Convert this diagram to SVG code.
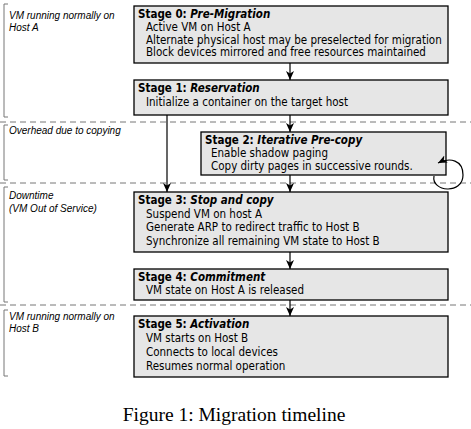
<svg xmlns="http://www.w3.org/2000/svg" width="471" height="429" viewBox="0 0 471 429">
<style>
.bg{fill:#fff}
.box{fill:#e6e6e6;stroke:#000;stroke-width:1.3}
.t{font-family:"DejaVu Sans Condensed","DejaVu Sans",sans-serif;font-size:11.5px;fill:#000}
.h{font-weight:bold}
.hi{font-weight:bold;font-style:italic}
.lab{font-family:"Liberation Sans",Arial,sans-serif;font-style:italic;font-size:10px;fill:#000}
.dash{stroke:#777;stroke-width:1;stroke-dasharray:6,4;fill:none}
.br{stroke:#777;stroke-width:1;fill:none}
.c{stroke:#000;stroke-width:1.2;fill:none}
.cap{font-family:"Liberation Serif","Times New Roman",serif;font-size:19.5px;fill:#000}
</style>
<defs>
<marker id="ah" markerWidth="10" markerHeight="10" refX="9" refY="4" orient="auto" markerUnits="userSpaceOnUse">
<path d="M0,0 L9,4 L0,8 L2.5,4 Z" fill="#000"/>
</marker>
</defs>
<rect class="bg" x="0" y="0" width="471" height="429"/>
<g id="phases">
<line class="dash" x1="0" y1="122" x2="471" y2="122"/>
<line class="dash" x1="0" y1="183" x2="471" y2="183"/>
<line class="dash" x1="0" y1="305" x2="471" y2="305"/>
<path class="br" d="M8,4 H4 V117 H8"/>
<path class="br" d="M8,125 H4 V180 H8"/>
<path class="br" d="M8,187 H4 V302 H8"/>
<path class="br" d="M8,310 H4 V376 H8"/>
<text class="lab" x="9" y="19">VM running normally on</text>
<text class="lab" x="9" y="31">Host A</text>
<text class="lab" x="9" y="134">Overhead due to copying</text>
<text class="lab" x="9" y="199">Downtime</text>
<text class="lab" x="9" y="212">(VM Out of Service)</text>
<text class="lab" x="9" y="320">VM running normally on</text>
<text class="lab" x="9" y="332">Host B</text>
</g>
<g id="stage0">
<rect class="box" x="134" y="6" width="314" height="57"/>
<text class="t" x="138" y="18"><tspan class="h">Stage 0: </tspan><tspan class="hi">Pre-Migration</tspan></text>
<text class="t" x="146" y="31">Active VM on Host A</text>
<text class="t" x="146" y="43.5">Alternate physical host may be preselected for migration</text>
<text class="t" x="146" y="56">Block devices mirrored and free resources maintained</text>
</g>
<g id="stage1">
<rect class="box" x="134" y="80" width="314" height="35"/>
<text class="t" x="138" y="92"><tspan class="h">Stage 1: </tspan><tspan class="hi">Reservation</tspan></text>
<text class="t" x="146" y="106">Initialize a container on the target host</text>
</g>
<g id="stage2">
<rect class="box" x="201" y="132" width="245" height="43"/>
<text class="t" x="205" y="143.5"><tspan class="h">Stage 2: </tspan><tspan class="hi">Iterative Pre-copy</tspan></text>
<text class="t" x="211" y="156.5">Enable shadow paging</text>
<text class="t" x="211" y="169.5">Copy dirty pages in successive rounds.</text>
</g>
<g id="stage3">
<rect class="box" x="134" y="192" width="314" height="60"/>
<text class="t" x="138" y="204"><tspan class="h">Stage 3: </tspan><tspan class="hi">Stop and copy</tspan></text>
<text class="t" x="146" y="217.5">Suspend VM on host A</text>
<text class="t" x="146" y="231">Generate ARP to redirect traffic to Host B</text>
<text class="t" x="146" y="244.5">Synchronize all remaining VM state to Host B</text>
</g>
<g id="stage4">
<rect class="box" x="134" y="269" width="314" height="31"/>
<text class="t" x="138" y="281"><tspan class="h">Stage 4: </tspan><tspan class="hi">Commitment</tspan></text>
<text class="t" x="146" y="294">VM state on Host A is released</text>
</g>
<g id="stage5">
<rect class="box" x="134" y="316" width="314" height="61"/>
<text class="t" x="138" y="328"><tspan class="h">Stage 5: </tspan><tspan class="hi">Activation</tspan></text>
<text class="t" x="146" y="341.5">VM starts on Host B</text>
<text class="t" x="146" y="355.5">Connects to local devices</text>
<text class="t" x="146" y="369.5">Resumes normal operation</text>
</g>
<g id="connectors">
<line class="c" x1="290" y1="63" x2="290" y2="80" marker-end="url(#ah)"/>
<line class="c" x1="290" y1="115" x2="290" y2="132" marker-end="url(#ah)"/>
<line class="c" x1="167" y1="115" x2="167" y2="192" marker-end="url(#ah)"/>
<line class="c" x1="290" y1="175" x2="290" y2="192" marker-end="url(#ah)"/>
<line class="c" x1="290" y1="252" x2="290" y2="269" marker-end="url(#ah)"/>
<line class="c" x1="290" y1="300" x2="290" y2="316" marker-end="url(#ah)"/>
<path class="c" d="M434,176 C431,192 463,195 463,175 C463,160 450,157 438,163" marker-end="url(#ah)"/>
</g>
<text class="cap" x="234" y="421" text-anchor="middle">Figure 1: Migration timeline</text>
</svg>
